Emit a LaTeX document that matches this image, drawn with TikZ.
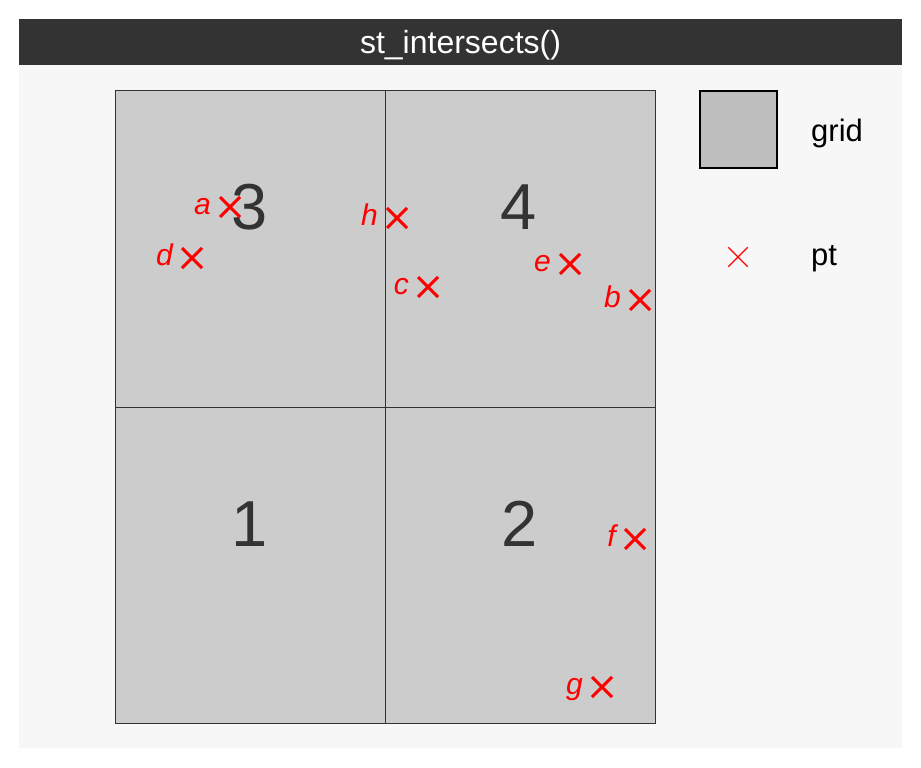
\documentclass[tikz,border=0pt]{standalone}
\usepackage{fontspec}
\setmainfont{Liberation Sans}
\usetikzlibrary{shapes.misc}
\definecolor{stripc}{HTML}{333333}
\definecolor{panelc}{HTML}{F7F7F7}
\definecolor{cellc}{HTML}{CCCCCC}
\definecolor{keyc}{HTML}{BEBEBE}
\definecolor{ptred}{HTML}{FF0000}
\tikzset{
  cellbox/.style={draw=stripc, fill=cellc, line width=1pt, inner sep=0pt, anchor=north west, minimum width=270pt},
  cellnum/.style={text=stripc, inner sep=0pt, font=\fontsize{65}{65}\selectfont},
  ptmark/.style={cross out, draw=ptred, line width=3pt, inner sep=0pt, minimum size=17pt},
  ptlab/.style={text=ptred, inner sep=0pt, anchor=base east, font=\fontsize{30}{30}\selectfont\itshape},
  legtext/.style={inner sep=0pt, anchor=base west, font=\fontsize{31}{31}\selectfont},
}
\begin{document}
\begin{tikzpicture}[x=1pt,y=-1pt]
\useasboundingbox (0,0) rectangle (921,768);
\fill[white] (0,0) rectangle (921,768);
\fill[panelc] (19,65) rectangle (902,748);
\fill[stripc] (19,19) rectangle (902,65);
\node[text=white, inner sep=0pt, anchor=base, font=\fontsize{32}{32}\selectfont] (title) at (460.5,54) {st\_intersects()};
% grid cells
\node[cellbox, minimum height=317pt] (g3) at (115,90) {};
\node[cellbox, minimum height=317pt] (g4) at (385,90) {};
\node[cellbox, minimum height=316pt] (g1) at (115,407) {};
\node[cellbox, minimum height=316pt] (g2) at (385,407) {};
\node[cellnum] (n3) at (250,207) {3};
\node[cellnum] (n4) at (519,207) {4};
\node[cellnum] (n1) at (250,524) {1};
\node[cellnum] (n2) at (520,524) {2};
% points
\foreach \n/\x/\y in {a/230/207, d/192/258, h/397/218, c/428/287, e/570/264, b/640/300, f/635/539, g/602/687}{
  \node[ptmark] (p\n) at (\x,\y) {};
  \node[ptlab] (l\n) at (\x-19,\y+7.5) {\n};
}
% legend
\node[draw=black, fill=keyc, line width=1.5pt, inner sep=0pt, minimum size=77pt, anchor=north west] (keygrid) at (699,90) {};
\node[legtext] (tgrid) at (811,141) {grid};
\node[cross out, draw=ptred, line width=1.3pt, inner sep=0pt, minimum size=18pt] (keypt) at (738,257) {};
\node[legtext] (tpt) at (811,265) {pt};
\end{tikzpicture}
\end{document}
